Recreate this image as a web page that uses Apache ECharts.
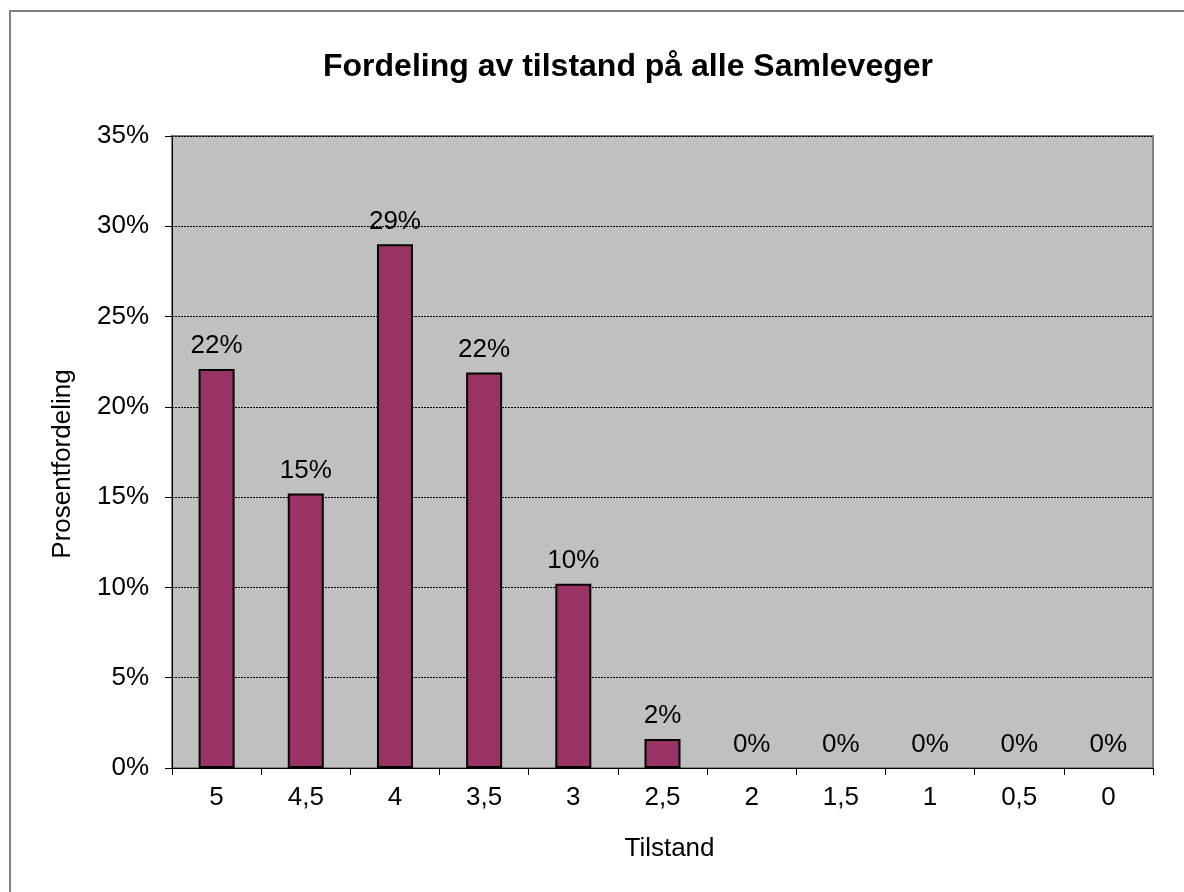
<!DOCTYPE html>
<html>
<head>
<meta charset="utf-8">
<script src="https://cdn.jsdelivr.net/npm/echarts@6/dist/echarts.min.js"></script>
<style>
html, body { margin: 0; padding: 0; background: #fff; }
#chartBox { width: 1184px; height: 892px; }
</style>
</head>
<body>
<div id="chartBox"></div>
<script>
// kategorier (tilstand) og andel i prosent
let categories = ['5', '4,5', '4', '3,5', '3', '2,5', '2', '1,5', '1', '0,5', '0'];
let values = [22.1, 15.2, 29.0, 21.9, 10.2, 1.6, 0, 0, 0, 0, 0];
let yTicks = [0, 5, 10, 15, 20, 25, 30, 35];

let font = 'Liberation Sans, Arial, sans-serif';
let chartBox = echarts.init(document.getElementById('chartBox'));

// tomme søyler skal ikke tegne kantlinje langs aksen
let barData = values.map(function (v) {
    return v === 0 ? {value: v, itemStyle: {borderWidth: 0}} : v;
});

let option = {
    animation: false,
    textStyle: {fontFamily: font},
    title: {
        text: 'Fordeling av tilstand på alle Samleveger',
        left: 318, top: 46,
        textStyle: {fontSize: 32, fontWeight: 'bold', color: '#000', fontFamily: font}
    },
    graphic: [{
        type: 'rect', z: -10,
        shape: {x: 10, y: 11, width: 1200, height: 900},
        style: {fill: '#fff', stroke: '#808080', lineWidth: 2}
    }],
    grid: {
        left: 172, right: 31, top: 136, bottom: 124,
        show: true, backgroundColor: '#C0C0C0', borderColor: '#808080', borderWidth: 2
    },
    xAxis: {
        type: 'category', data: categories,
        name: 'Tilstand', nameLocation: 'middle', nameGap: 68,
        nameTextStyle: {fontSize: 26, color: '#000', fontFamily: font, padding: [0, 0, 0, 14]},
        axisLine: {show: true, lineStyle: {color: '#000', width: 1}},
        axisTick: {show: true, length: 7, lineStyle: {color: '#000'}},
        axisLabel: {fontSize: 26, color: '#000', margin: 17, fontFamily: font},
        splitLine: {show: false}
    },
    yAxis: {
        type: 'value', min: yTicks[0], max: yTicks[yTicks.length - 1], interval: 5,
        name: 'Prosentfordeling', nameLocation: 'middle', nameGap: 96, nameRotate: 90,
        nameTextStyle: {fontSize: 26, color: '#000', fontFamily: font, padding: [0, 24, 0, 0]},
        axisLine: {show: true, lineStyle: {color: '#000', width: 1}},
        axisTick: {show: true, length: 7, lineStyle: {color: '#000'}},
        axisLabel: {fontSize: 26, color: '#000', margin: 23, formatter: '{value}%', fontFamily: font},
        splitLine: {show: true, lineStyle: {color: '#000', type: [2, 1], width: 1}}
    },
    series: [{
        type: 'bar', data: barData, barWidth: 36,
        itemStyle: {color: '#993366', borderColor: '#000', borderWidth: 2},
        label: {
            show: true, position: 'top', distance: 10,
            fontSize: 26, color: '#000', fontFamily: font,
            formatter: function (p) { return Math.round(p.value) + '%'; }
        }
    }]
};
chartBox.setOption(option, true);
</script>
</body>
</html>
